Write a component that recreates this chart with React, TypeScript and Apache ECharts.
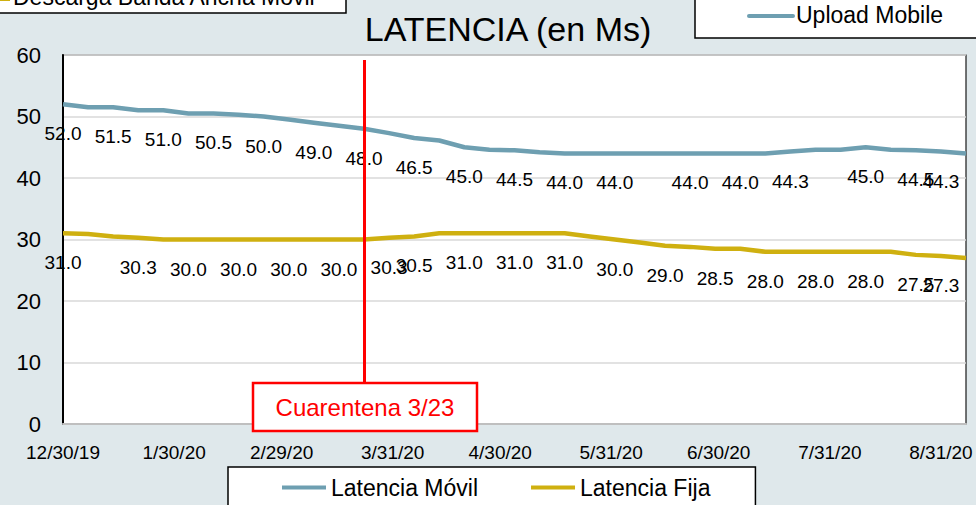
import React, { useEffect, useRef } from "react";
import * as echarts from "echarts";

// ---- data ----
const DATES = [
  "2019-12-30", "2020-01-06", "2020-01-13", "2020-01-20", "2020-01-27", "2020-02-03",
  "2020-02-10", "2020-02-17", "2020-02-24", "2020-03-02", "2020-03-09", "2020-03-16",
  "2020-03-23", "2020-03-30", "2020-04-06", "2020-04-13", "2020-04-20", "2020-04-27",
  "2020-05-04", "2020-05-11", "2020-05-18", "2020-05-25", "2020-06-01", "2020-06-08",
  "2020-06-15", "2020-06-22", "2020-06-29", "2020-07-06", "2020-07-13", "2020-07-20",
  "2020-07-27", "2020-08-03", "2020-08-10", "2020-08-17", "2020-08-24", "2020-08-31",
  "2020-09-07",
];
const LATENCIA_MOVIL = [
  52.0, 51.5, 51.5, 51.0, 51.0, 50.5, 50.5, 50.3, 50.0, 49.5,
  49.0, 48.5, 48.0, 47.3, 46.5, 46.1, 45.0, 44.6, 44.5, 44.2,
  44.0, 44.0, 44.0, 44.0, 44.0, 44.0, 44.0, 44.0, 44.0,
  44.3, 44.6, 44.6, 45.0, 44.6, 44.5, 44.3, 44.0,
];
const LATENCIA_FIJA = [
  31.0, 30.9, 30.5, 30.3, 30.0, 30.0, 30.0, 30.0, 30.0, 30.0,
  30.0, 30.0, 30.0, 30.3, 30.5, 31.0, 31.0, 31.0, 31.0, 31.0,
  31.0, 30.5, 30.0, 29.5, 29.0, 28.8, 28.5, 28.5, 28.0, 28.0,
  28.0, 28.0, 28.0, 28.0, 27.5, 27.3, 27.0,
];
const MOVIL_LABEL_IDX = [0, 2, 4, 6, 8, 10, 12, 14, 16, 18, 20, 22, 25, 27, 29, 32, 34, 35];
const FIJA_LABEL_IDX = [0, 3, 5, 7, 9, 11, 13, 14, 16, 18, 20, 22, 24, 26, 28, 30, 32, 34, 35];
const TICK_DATES = [
  "2019-12-30", "2020-01-30", "2020-02-29", "2020-03-31", "2020-04-30",
  "2020-05-31", "2020-06-30", "2020-07-31", "2020-08-31",
];
const TICK_LABELS = [
  "12/30/19", "1/30/20", "2/29/20", "3/31/20", "4/30/20",
  "5/31/20", "6/30/20", "7/31/20", "8/31/20",
];
const AXIS_START = "2019-12-30";
const AXIS_END = "2020-09-07";
const QUARANTINE_DATE = "2020-03-23";
const SERIES_NAMES = ["Latencia Móvil", "Latencia Fija"];

const FONT = "'Liberation Sans', Arial, sans-serif";
const BLUE = "#6e9fb1";
const GOLD = "#cfb010";
const BG = "#dfe8eb";

function toUTC(d: string) {
  const [y, m, dd] = d.split("-").map(Number);
  return Date.UTC(y, m - 1, dd);
}
const ORIGIN = toUTC(AXIS_START);
function dayOf(d: string) {
  return Math.round((toUTC(d) - ORIGIN) / 86400000);
}

export default function App() {
  const ref = useRef<HTMLDivElement>(null);
  useEffect(() => {
    document.body.style.margin = "0";
    const chart = echarts.init(ref.current!, undefined, { renderer: "svg" });
    const tickDays = TICK_DATES.map(dayOf);
    const qDay = dayOf(QUARANTINE_DATE);

    const mkData = (vals: number[], idx: number[]) =>
      DATES.map((d, i) => ({
        value: [dayOf(d), vals[i]],
        label: { show: idx.includes(i) },
      }));

    const labelCfg = {
      position: "bottom" as const,
      distance: 20,
      color: "#000",
      fontSize: 19,
      fontFamily: FONT,
      formatter: (p: any) => Number(p.value[1]).toFixed(1),
    };

    chart.setOption({
      animation: false,
      backgroundColor: BG,
      grid: {
        left: 63,
        top: 55,
        right: 10,
        bottom: 81,
        show: true,
        backgroundColor: "#ffffff",
        borderColor: "#1a1a1a",
        borderWidth: 1.2,
      },
      legend: {
        left: 228,
        top: 467,
        padding: [9, 45, 40, 54],
        itemGap: 53,
        itemWidth: 44,
        itemHeight: 4,
        icon: "rect",
        backgroundColor: "#ffffff",
        borderColor: "#000",
        borderWidth: 1.5,
        borderRadius: 0,
        data: SERIES_NAMES,
        textStyle: { fontSize: 23, fontFamily: FONT, color: "#000" },
      },
      xAxis: {
        type: "value",
        min: 0,
        max: dayOf(AXIS_END),
        splitLine: { show: false },
        axisTick: { show: false },
        axisLine: { show: true, lineStyle: { color: "#bfbfbf", width: 2 } },
        axisLabel: {
          customValues: tickDays,
          margin: 19,
          fontSize: 19,
          fontFamily: FONT,
          color: "#000",
          formatter: (v: number) => {
            const i = tickDays.indexOf(Math.round(v));
            return i >= 0 ? TICK_LABELS[i] : "";
          },
        },
      },
      yAxis: {
        type: "value",
        min: 0,
        max: 60,
        interval: 10,
        axisLine: { show: true, lineStyle: { color: "#000", width: 2 } },
        axisTick: { show: false },
        splitLine: { lineStyle: { color: "#d9d9d9", width: 1.5 } },
        axisLabel: { fontSize: 22, fontFamily: FONT, color: "#000", margin: 22 },
      },
      series: [
        {
          name: SERIES_NAMES[0],
          type: "line",
          data: mkData(LATENCIA_MOVIL, MOVIL_LABEL_IDX),
          symbol: "circle",
          symbolSize: 0.1,
          showSymbol: true,
          lineStyle: { color: BLUE, width: 4.5 },
          itemStyle: { color: BLUE },
          label: labelCfg,
          labelLayout: { hideOverlap: false },
          z: 3,
        },
        {
          name: SERIES_NAMES[1],
          type: "line",
          data: mkData(LATENCIA_FIJA, FIJA_LABEL_IDX),
          symbol: "circle",
          symbolSize: 0.1,
          showSymbol: true,
          lineStyle: { color: GOLD, width: 4.5 },
          itemStyle: { color: GOLD },
          label: labelCfg,
          labelLayout: { hideOverlap: false },
          z: 2,
          markLine: {
            silent: true,
            symbol: "none",
            label: { show: false },
            lineStyle: { color: "#ff0000", width: 3, type: "solid" },
            data: [[{ coord: [qDay, 59.2] }, { coord: [qDay, 6.7] }]],
            z: 10,
          },
        },
      ],
      graphic: [
        // title
        {
          type: "text",
          x: 508,
          y: 29,
          style: {
            text: "LATENCIA (en Ms)",
            fontSize: 34,
            fontFamily: FONT,
            fill: "#000",
            align: "center",
            verticalAlign: "middle",
          },
        },
        // top-left partial legend box
        {
          type: "rect",
          shape: { x: -10, y: -40, width: 356, height: 53 },
          style: { fill: "#fff", stroke: "#000", lineWidth: 1.5 },
        },
        {
          type: "line",
          shape: { x1: -2, y1: -1, x2: 10, y2: -1 },
          style: { stroke: GOLD, lineWidth: 4 },
        },
        {
          type: "text",
          x: 13,
          y: -3,
          style: {
            text: "Descarga Banda Ancha Móvil",
            fontSize: 23,
            fontFamily: FONT,
            fill: "#000",
            align: "left",
            verticalAlign: "middle",
          },
        },
        // top-right partial legend box
        {
          type: "rect",
          shape: { x: 695, y: -10, width: 300, height: 48 },
          style: { fill: "#fff", stroke: "#000", lineWidth: 1.5 },
        },
        {
          type: "line",
          shape: { x1: 749, y1: 16, x2: 793, y2: 16 },
          style: { stroke: BLUE, lineWidth: 4, lineCap: "round" },
        },
        {
          type: "text",
          x: 796,
          y: 15,
          style: {
            text: "Upload Mobile",
            fontSize: 23,
            fontFamily: FONT,
            fill: "#000",
            align: "left",
            verticalAlign: "middle",
          },
        },
        // quarantine annotation box
        {
          type: "rect",
          shape: { x: 253, y: 383, width: 224, height: 48 },
          style: { fill: "#fff", stroke: "#ff0000", lineWidth: 2.5 },
          z: 100,
        },
        {
          type: "text",
          x: 365,
          y: 407,
          style: {
            text: "Cuarentena 3/23",
            fontSize: 24,
            fontFamily: FONT,
            fill: "#ff0000",
            align: "center",
            verticalAlign: "middle",
          },
          z: 101,
        },
      ],
    });
    return () => chart.dispose();
  }, []);
  return (
    <div
      ref={ref}
      style={{ position: "absolute", left: 0, top: 0, width: 976, height: 505 }}
    />
  );
}
